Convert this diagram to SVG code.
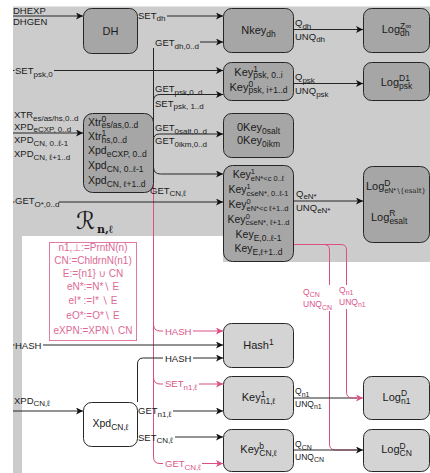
<svg xmlns="http://www.w3.org/2000/svg" width="430" height="473" viewBox="0 0 430 473">
<defs>
<style>
text{font-family:"Liberation Sans","DejaVu Sans",sans-serif;fill:#1a1a1a}
.l{font-size:9.5px}
.ls{font-size:8.5px}
.n{font-size:11px}
.k{font-size:10.5px}
.s{font-size:8px}
.ss{font-size:7px}
.sn{font-size:8.5px}
.sk{font-size:7.5px}
.m{text-anchor:middle}
.pk{fill:#d9558a}
.pt{font-size:10px;fill:#dc6a95;text-anchor:middle}
.ms{font-family:"DejaVu Serif","Liberation Serif",serif;font-size:7px}
.e{fill:none;stroke:#262626;stroke-width:1}
.pe{fill:none;stroke:#db4f84;stroke-width:1}
.nd{fill:#a6a6a6;stroke:#262626;stroke-width:1}
.nl{fill:#d4d4d4;stroke:#262626;stroke-width:1}
.nw{fill:#ffffff;stroke:#262626;stroke-width:1}
</style>
<marker id="ab" viewBox="0 0 7 7" refX="7" refY="3.5" markerWidth="7" markerHeight="7" orient="auto" markerUnits="userSpaceOnUse"><path d="M0,0 L7,3.5 L0,7 L1.8,3.5 Z" fill="#111"/></marker>
<marker id="ap" viewBox="0 0 7 7" refX="7" refY="3.5" markerWidth="7" markerHeight="7" orient="auto" markerUnits="userSpaceOnUse"><path d="M0,0 L7,3.5 L0,7 L1.8,3.5 Z" fill="#db4f84"/></marker>
</defs>
<rect width="430" height="473" fill="#ffffff"/>
<path d="M13,6.5 H430 V262 H223 V236 H22 V473 H13 Z" fill="#cccccc"/>

<g id="rule-box">
<text x="76" y="229" style="font-family:'DejaVu Sans','DejaVu Serif',serif;font-size:24px;font-style:italic">ℛ</text>
<text x="97" y="233" style="font-family:'DejaVu Serif','Liberation Serif',serif;font-size:11px;font-weight:bold">n,ℓ</text>
<rect x="49.5" y="242.5" width="87" height="98" fill="#ffffff" stroke="#e07aa0"/>
<text class="pt" x="93" y="251">n1,⊥:=PrntN(n)</text>
<text class="pt" x="93" y="264">CN:=ChldrnN(n1)</text>
<text class="pt" x="93" y="277">E:={n1} ∪ CN</text>
<text class="pt" x="93" y="290">eN*:=N*∖ E</text>
<text class="pt" x="93" y="303.5">eI* :=I* ∖ E</text>
<text class="pt" x="93" y="319">eO*:=O*∖ E</text>
<text class="pt" x="93" y="334">eXPN:=XPN∖ CN</text>
</g>

<g id="connectors">
<path class="pe" d="M153.5,185 V457 Q153.5,463.5 160,463.5 H163"/>
<path class="pe" d="M202,463.5 H223" marker-end="url(#ap)"/>
<path class="pe" d="M153.5,324 Q153.5,331 160,331 H163"/>
<path class="pe" d="M193,331 H223" marker-end="url(#ap)"/>
<path class="pe" d="M153.5,377 Q153.5,384 160,384 H163"/>
<path class="pe" d="M199,384 H223" marker-end="url(#ap)"/>
<path class="pe" d="M293.5,244.5 H324 Q329.5,244.5 329.5,250 V285"/>
<path class="pe" d="M329.5,311 V444 Q329.5,450 335.5,450 H357"/>
<path class="e" d="M13,16 H83" marker-end="url(#ab)"/>
<path class="e" d="M167,16 H223" marker-end="url(#ab)"/>
<path class="e" d="M200,42 H223" marker-end="url(#ab)"/>
<path class="e" d="M153.5,48 V167 Q153.5,174 160.5,174 H223" marker-end="url(#ab)"/>
<path class="e" d="M13,70.5 H14.5"/>
<path class="e" d="M54,70.5 H223" marker-end="url(#ab)"/>
<path class="e" d="M153.5,101 Q153.5,94.5 160,94.5 H223" marker-end="url(#ab)"/>
<path class="e" d="M153.5,140 Q153.5,134 159.5,134 H223" marker-end="url(#ab)"/>
<path class="e" d="M13,133 H83" marker-end="url(#ab)"/>
<path class="e" d="M13,202 H14.5"/>
<path class="e" d="M59,202 H223" marker-end="url(#ab)"/>
<path class="e" d="M293.5,29.5 H363" marker-end="url(#ab)"/>
<path class="e" d="M293.5,83.5 H363" marker-end="url(#ab)"/>
<path class="e" d="M293.5,201 H363" marker-end="url(#ab)"/>
<path class="e" d="M13,345 H14.5"/>
<path class="e" d="M43,345 H223" marker-end="url(#ab)"/>
<path class="e" d="M137.5,402 V364 Q137.5,358 143.5,358 H163"/>
<path class="e" d="M193,358 H223" marker-end="url(#ab)"/>
<path class="e" d="M13,411 H83" marker-end="url(#ab)"/>
<path class="e" d="M173,411 H223" marker-end="url(#ab)"/>
<path class="e" d="M175,437 H223" marker-end="url(#ab)"/>
<path class="e" d="M293.5,398 H357"/>
<path class="e" d="M293.5,450 H363" marker-end="url(#ab)"/>
<path class="pe" d="M293.5,244.5 H341 Q346.5,244.5 346.5,250 V285"/>
<path class="pe" d="M346.5,309 V392 Q346.5,398 352.5,398 H363" marker-end="url(#ap)"/>
</g>

<g id="edge-labels">
<text class="l" x="13" y="14">DHEXP</text>
<text class="l" x="13" y="25">DHGEN</text>
<text class="l" x="138" y="18.5">SET<tspan class="s" dy="2.5">dh</tspan></text>
<text class="l" x="155" y="46">GET<tspan class="s" dy="2.5">dh,0..d</tspan></text>
<text class="l" x="15" y="74">SET<tspan class="s" dy="2.5">psk,0</tspan></text>
<text class="l" x="155" y="92">GET<tspan class="s" dy="2.5">psk,0..d</tspan></text>
<text class="l" x="155" y="106.5">SET<tspan class="s" dy="2.5">psk, 1..d</tspan></text>
<text class="l" x="14" y="118">XTR<tspan class="s" dy="2.5">es/as/hs,0..d</tspan></text>
<text class="l" x="14" y="129.5">XPD<tspan class="s" dy="2.5">eCXP, 0..d</tspan></text>
<text class="l" x="14" y="143">XPD<tspan class="s" dy="2.5">CN, 0..ℓ-1</tspan></text>
<text class="l" x="14" y="157">XPD<tspan class="s" dy="2.5">CN, ℓ+1..d</tspan></text>
<text class="l" x="155" y="131">GET<tspan class="s" dy="2.5">0salt,0..d</tspan></text>
<text class="l" x="155" y="144">GET<tspan class="s" dy="2.5">0ikm,0..d</tspan></text>
<text class="l" x="150" y="193.5">GET<tspan class="s" dy="2.5">CN,ℓ</tspan></text>
<text class="l" x="15" y="204">GET<tspan class="s" dy="2.5">O*,0..d</tspan></text>
<text class="l" x="295" y="26">Q<tspan class="s" dy="2.5">dh</tspan></text>
<text class="l" x="295" y="39.5">UNQ<tspan class="s" dy="2.5">dh</tspan></text>
<text class="l" x="295" y="80">Q<tspan class="s" dy="2.5">psk</tspan></text>
<text class="l" x="295" y="94">UNQ<tspan class="s" dy="2.5">psk</tspan></text>
<text class="l" x="296" y="196.5">Q<tspan class="s" dy="2.5">eN*</tspan></text>
<text class="l" x="296" y="210.5">UNQ<tspan class="s" dy="2.5">eN*</tspan></text>
<text class="ls pk" x="303" y="294.5">Q<tspan class="ss" dy="2.5">CN</tspan></text>
<text class="ls pk" x="303" y="307">UNQ<tspan class="ss" dy="2.5">CN</tspan></text>
<text class="ls pk" x="339" y="292.5">Q<tspan class="ss" dy="2.5">n1</tspan></text>
<text class="ls pk" x="339" y="304.5">UNQ<tspan class="ss" dy="2.5">n1</tspan></text>
<text class="l pk" x="165" y="334.5">HASH</text>
<text class="l" x="15" y="348.5">HASH</text>
<text class="l" x="165" y="361.5">HASH</text>
<text class="l pk" x="165" y="387">SET<tspan class="s" dy="2.5">n1,ℓ</tspan></text>
<text class="l" x="14" y="403.5">XPD<tspan class="s" dy="2.5">CN,ℓ</tspan></text>
<text class="l" x="138" y="414">GET<tspan class="s" dy="2.5">n1,ℓ</tspan></text>
<text class="l" x="138" y="440.5">SET<tspan class="s" dy="2.5">CN,ℓ</tspan></text>
<text class="l pk" x="165" y="467">GET<tspan class="s" dy="2.5">CN,ℓ</tspan></text>
<text class="ls" x="295" y="394">Q<tspan class="ss" dy="2.5">n1</tspan></text>
<text class="ls" x="295" y="406.5">UNQ<tspan class="ss" dy="2.5">n1</tspan></text>
<text class="ls" x="295" y="447">Q<tspan class="ss" dy="2.5">CN</tspan></text>
<text class="ls" x="295" y="459.5">UNQ<tspan class="ss" dy="2.5">CN</tspan></text>
</g>

<g id="node-dh"><rect class="nd" x="83.5" y="8.5" width="54" height="45" rx="8"/><text class="n m" x="110.5" y="34.5">DH</text></g>
<g id="node-nkey"><rect class="nd" x="223.5" y="8.5" width="70" height="44" rx="8"/><text class="n m" x="258.5" y="33.5">Nkey<tspan class="sn" dy="3">dh</tspan></text></g>
<g id="node-log-dh"><rect class="nd" x="363.5" y="8.5" width="66" height="44" rx="8"/><text class="n m" x="396.5" y="33">Log<tspan class="sn" dy="-4.5">Z∞</tspan><tspan class="sn" dx="-11.2" dy="7.5">dh</tspan></text></g>
<g id="node-key-psk"><rect class="nd" x="223.5" y="62.5" width="70" height="38" rx="8"/>
<text class="n m" x="258.5" y="75.5">Key<tspan class="sn" dy="-4">1</tspan><tspan class="sn" dx="-4.7" dy="6.5">psk, 0..i</tspan></text>
<text class="n m" x="258.5" y="90.5">Key<tspan class="sn" dy="-4">0</tspan><tspan class="sn" dx="-4.7" dy="6.5">psk, i+1..d</tspan></text></g>
<g id="node-log-psk"><rect class="nd" x="363.5" y="62.5" width="66" height="38" rx="8"/><text class="n m" x="396.5" y="85.5">Log<tspan class="sn" dy="-4.5">D1</tspan><tspan class="sn" dx="-10.9" dy="7.5">psk</tspan></text></g>
<g id="node-0key"><rect class="nd" x="223.5" y="113.5" width="70" height="44" rx="8"/>
<text class="n m" x="258.5" y="130.5">0Key<tspan class="sn" dy="3">0salt</tspan></text>
<text class="n m" x="258.5" y="144">0Key<tspan class="sn" dy="3">0ikm</tspan></text></g>
<g id="node-xtr"><rect class="nd" x="83.5" y="113.5" width="70" height="79" rx="9"/>
<text class="k" x="88" y="125.5">Xtr<tspan class="sn" dy="-4">0</tspan><tspan class="sn" dx="-4.7" dy="6.5">es/as,0..d</tspan></text>
<text class="k" x="88" y="140">Xtr<tspan class="sn" dy="-4">1</tspan><tspan class="sn" dx="-4.7" dy="6.5">hs,0..d</tspan></text>
<text class="k" x="88" y="154">Xpd<tspan class="sn" dy="3">eCXP, 0..d</tspan></text>
<text class="k" x="88" y="169">Xpd<tspan class="sn" dy="3">CN, 0..ℓ-1</tspan></text>
<text class="k" x="88" y="184">Xpd<tspan class="sn" dy="3">CN, ℓ+1..d</tspan></text></g>
<g id="node-key-en"><rect class="nd" x="223.5" y="165.5" width="70" height="96" rx="9"/>
<text class="k m" x="258.5" y="178">Key<tspan class="sk" dy="-4">1</tspan><tspan class="sk" dx="-4.2" dy="6.5">eN*&lt;c 0..ℓ</tspan></text>
<text class="k m" x="258.5" y="193">Key<tspan class="sk" dy="-4">1</tspan><tspan class="sk" dx="-4.2" dy="6.5">c≤eN*, 0..ℓ-1</tspan></text>
<text class="k m" x="258.5" y="208">Key<tspan class="sk" dy="-4">0</tspan><tspan class="sk" dx="-4.2" dy="6.5">eN*&lt;c ℓ+1..d</tspan></text>
<text class="k m" x="258.5" y="222.5">Key<tspan class="sk" dy="-4">0</tspan><tspan class="sk" dx="-4.2" dy="6.5">c≤eN*, ℓ+1..d</tspan></text>
<text class="k m" x="258.5" y="238">Key<tspan class="sn" dy="3">E,0..ℓ-1</tspan></text>
<text class="k m" x="258.5" y="252">Key<tspan class="sn" dy="3">E,ℓ+1..d</tspan></text></g>
<g id="node-log-en"><rect class="nd" x="363.5" y="166.5" width="66" height="76" rx="9"/>
<text class="n" x="366" y="190">Log<tspan class="sn" dy="-4.5">D</tspan><tspan class="ss" dx="-6.1" dy="7.5">eN*</tspan><tspan class="ms">∖{esalt}</tspan></text>
<text class="n" x="371" y="220.5">Log<tspan class="sn" dy="-4.5">R</tspan><tspan class="sn" dx="-6.1" dy="7.5">esalt</tspan></text></g>
<g id="node-hash"><rect class="nl" x="223.5" y="323.5" width="70" height="44" rx="8"/><text class="n m" x="258.5" y="349">Hash<tspan class="sn" dy="-4.5">1</tspan></text></g>
<g id="node-key-n1"><rect class="nl" x="223.5" y="376.5" width="70" height="43" rx="8"/><text class="n m" x="258.5" y="401">Key<tspan class="sn" dy="-4.5">1</tspan><tspan class="sn" dx="-4.7" dy="7.5">n1,ℓ</tspan></text></g>
<g id="node-log-n1"><rect class="nl" x="363.5" y="376.5" width="66" height="43" rx="8"/><text class="n m" x="396.5" y="400.5">Log<tspan class="sn" dy="-4.5">D</tspan><tspan class="sn" dx="-6.1" dy="7.5">n1</tspan></text></g>
<g id="node-key-cn"><rect class="nl" x="223.5" y="429.5" width="70" height="42" rx="8"/><text class="n m" x="258.5" y="453">Key<tspan class="sn" dy="-4.5">b</tspan><tspan class="sn" dx="-4.7" dy="7.5">CN,ℓ</tspan></text></g>
<g id="node-log-cn"><rect class="nl" x="363.5" y="429.5" width="66" height="42" rx="8"/><text class="n m" x="396.5" y="453">Log<tspan class="sn" dy="-4.5">D</tspan><tspan class="sn" dx="-6.1" dy="7.5">CN</tspan></text></g>
<g id="node-xpd"><rect class="nw" x="83.5" y="402.5" width="54" height="44" rx="8"/><text class="k m" x="110.5" y="426.5">Xpd<tspan class="sn" dy="3">CN,ℓ</tspan></text></g>
</svg>
